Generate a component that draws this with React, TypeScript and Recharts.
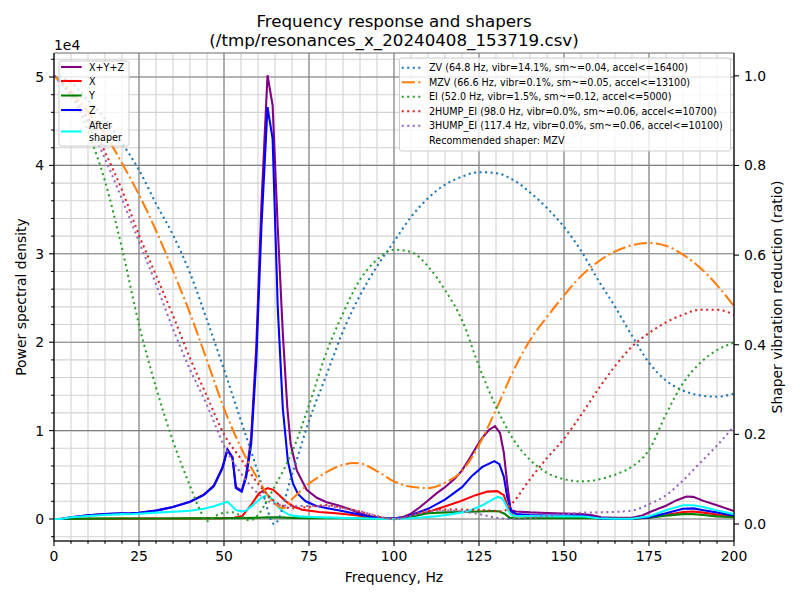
import React from 'react';
import { ComposedChart, Line, XAxis, YAxis, CartesianGrid } from 'recharts';

type Pt = [number, number];

// ---- Power spectral density (frequency Hz, PSD) ----
const psdXyz: Pt[] = [
  [0, 0], [2, 0], [5, 200], [10, 420], [15, 560], [20, 640], [22, 620], [25, 700], [30, 950], [35, 1350],
  [40, 1950], [44, 2750], [47, 3800], [49.5, 5800], [51, 7900], [52.5, 7000], [53.5, 3600], [55.2, 3200],
  [56.5, 5000], [58, 9300], [59.5, 19500], [61, 35500], [62.8, 50200], [64.3, 46800], [65.8, 33000],
  [67.3, 21000], [68.6, 12700], [69.6, 8500], [71.4, 5500], [74.3, 3300], [77.3, 2400], [80.2, 1900],
  [84, 1500], [87, 1100], [90, 650], [93, 300], [96, 130], [100, 80], [102.5, 200], [105, 600],
  [107.5, 1300], [110, 2100], [112.5, 2900], [115, 3600], [118, 4600], [120, 5500], [122, 6700],
  [124, 8000], [126, 9200], [128, 10100], [129.7, 10500], [131.2, 9700], [132.3, 7500], [133.3, 4000],
  [134.3, 1000], [136, 850], [140, 750], [145, 680], [150, 620], [155, 560], [158, 450], [161, 200],
  [165, 150], [170, 150], [173, 400], [176, 900], [180, 1500], [183, 2100], [186, 2550], [188, 2500],
  [191, 2050], [195, 1550], [200, 900],
];

const psdX: Pt[] = [
  [0, 0], [10, 30], [20, 40], [30, 50], [40, 60], [50, 100], [53, 150], [55.4, 350], [57.8, 1500],
  [60.3, 2900], [62.8, 3500], [64.5, 3300], [66.5, 2600], [68.5, 1900], [70.5, 1400], [73, 1050],
  [78, 800], [83, 650], [88, 450], [93, 230], [97, 100], [100, 80], [103, 150], [106, 350], [110, 800],
  [114.5, 1350], [119.5, 2000], [124, 2700], [127.5, 3100], [130.4, 3150], [132.3, 2700], [133.8, 1000],
  [135, 400], [140, 300], [150, 250], [156, 250], [160, 100], [165, 40], [170, 40], [175, 150],
  [180, 450], [185, 800], [188, 850], [191, 720], [195, 500], [200, 300],
];

const psdY: Pt[] = [
  [0, 0], [10, 40], [20, 50], [30, 60], [40, 70], [50, 90], [55, 100], [60, 150], [63, 200], [66, 180],
  [70, 130], [75, 100], [85, 80], [95, 40], [100, 30], [105, 250], [110, 650], [115, 750], [120, 800],
  [125, 850], [129, 900], [131, 850], [132.5, 600], [134, 150], [136, 60], [145, 80], [150, 100],
  [156, 120], [160, 60], [165, 30], [170, 30], [175, 150], [180, 380], [185, 550], [188, 550],
  [191, 450], [195, 300], [200, 200],
];

const psdZ: Pt[] = [
  [0, 0], [2, 0], [5, 200], [10, 420], [15, 560], [20, 640], [22, 620], [25, 700], [30, 950], [35, 1350],
  [40, 1950], [44, 2700], [47, 3700], [49.5, 5700], [51, 7800], [52.5, 6900], [53.5, 3500], [55.2, 3100],
  [56.5, 4700], [58, 8500], [59.5, 18000], [61, 33000], [62.8, 46600], [64.3, 43000], [65.8, 24000],
  [67.3, 12500], [68.8, 6500], [70.3, 4000], [71.8, 2800], [74, 2000], [77, 1500], [80, 1250],
  [84, 950], [88, 640], [92, 330], [96, 120], [100, 80], [103, 200], [106, 600], [110, 1150],
  [115, 2200], [120, 3600], [123, 4900], [126, 5900], [129.5, 6550], [131, 6200], [132.3, 4800],
  [133.3, 2500], [134.5, 900], [136, 550], [140, 450], [145, 400], [150, 380], [156, 350], [160, 100],
  [165, 30], [170, 30], [175, 200], [180, 650], [185, 1150], [188, 1200], [191, 1000], [195, 750],
  [200, 400],
];

const afterShaper: Pt[] = [
  [0, 0], [2, 0], [5, 190], [10, 340], [15, 450], [20, 550], [22, 530], [25, 600], [30, 720], [35, 820],
  [40, 930], [44, 1150], [47, 1450], [49.5, 1750], [51, 1950], [52.5, 1400], [53.5, 1000], [55.2, 850],
  [56.5, 950], [58, 1400], [59.5, 1900], [61, 2400], [62.8, 2750], [64.3, 2200], [65.8, 1400],
  [67.3, 900], [68.8, 550], [70.3, 380], [72, 300], [76, 230], [80, 180], [88, 90], [95, 30], [100, 10],
  [104, 60], [108, 170], [112, 300], [116, 480], [120, 750], [123, 1050], [126, 1550], [128.5, 2100],
  [130.5, 2500], [131.7, 2350], [132.7, 1800], [133.7, 900], [134.7, 400], [136, 350], [140, 330],
  [145, 320], [150, 300], [156, 280], [160, 80], [165, 20], [170, 20], [175, 300], [180, 1000],
  [185, 1550], [188, 1550], [191, 1350], [195, 950], [200, 550],
];

// ---- Shaper vibration reduction ratios (frequency Hz, ratio) ----
const zvRatio: Pt[] = [
  [0, 1.0], [5, 0.985], [10, 0.945], [15, 0.905], [20, 0.85], [25, 0.79], [30, 0.715], [35, 0.645],
  [40, 0.56], [45, 0.455], [50, 0.345], [55, 0.23], [60, 0.115], [64.8, 0.0], [70, 0.11], [75, 0.23],
  [80, 0.33], [85, 0.43], [90, 0.51], [95, 0.575], [100, 0.63], [105, 0.685], [110, 0.727], [115, 0.757],
  [120, 0.775], [125, 0.785], [130, 0.783], [135, 0.768], [140, 0.74], [145, 0.705], [150, 0.663],
  [155, 0.61], [160, 0.545], [165, 0.485], [170, 0.42], [175, 0.36], [180, 0.32], [185, 0.298],
  [190, 0.287], [195, 0.284], [200, 0.291],
];

const mzvRatio: Pt[] = [
  [0, 1.0], [5, 0.965], [10, 0.92], [15, 0.87], [20, 0.805], [25, 0.735], [30, 0.655], [35, 0.565],
  [40, 0.47], [45, 0.365], [50, 0.258], [55, 0.17], [60, 0.1], [65, 0.045], [67.5, 0.035], [70, 0.055],
  [75, 0.09], [80, 0.115], [85, 0.132], [88, 0.136], [90, 0.135], [95, 0.118], [100, 0.095], [105, 0.083],
  [110, 0.08], [115, 0.092], [120, 0.118], [125, 0.176], [130, 0.255], [135, 0.34], [140, 0.41],
  [145, 0.462], [150, 0.51], [155, 0.553], [160, 0.585], [165, 0.608], [170, 0.622], [175, 0.627],
  [180, 0.621], [185, 0.601], [190, 0.572], [195, 0.533], [200, 0.486],
];

const eiRatio: Pt[] = [
  [0, 1.0], [5, 0.96], [10, 0.875], [15, 0.765], [20, 0.615], [25, 0.445], [30, 0.305], [35, 0.185],
  [40, 0.085], [43, 0.03], [45, 0.006], [47.5, 0.018], [50, 0.025], [52.5, 0.026], [55, 0.018],
  [57.5, 0.008], [60, 0.02], [62.5, 0.05], [65, 0.085], [67.5, 0.12], [70, 0.16], [75, 0.265],
  [80, 0.38], [85, 0.47], [90, 0.545], [95, 0.59], [100, 0.612], [105, 0.607], [110, 0.575],
  [115, 0.522], [120, 0.455], [125, 0.352], [130, 0.262], [135, 0.19], [140, 0.143], [145, 0.114],
  [150, 0.1], [155, 0.095], [160, 0.099], [165, 0.11], [170, 0.128], [175, 0.165], [180, 0.245],
  [185, 0.314], [190, 0.359], [195, 0.388], [200, 0.405],
];

const twoHumpRatio: Pt[] = [
  [0, 1.0], [5, 0.96], [10, 0.905], [15, 0.83], [20, 0.745], [25, 0.645], [30, 0.555], [35, 0.465],
  [40, 0.37], [45, 0.285], [50, 0.2], [55, 0.145], [60, 0.09], [65, 0.05], [70, 0.035], [75, 0.038],
  [80, 0.042], [85, 0.036], [90, 0.028], [95, 0.017], [100, 0.012], [105, 0.02], [110, 0.03],
  [115, 0.032], [120, 0.032], [125, 0.031], [130, 0.029], [132, 0.028], [135, 0.048], [140, 0.1],
  [145, 0.147], [150, 0.19], [155, 0.243], [160, 0.3], [165, 0.352], [170, 0.396], [175, 0.426],
  [180, 0.45], [185, 0.467], [190, 0.478], [195, 0.478], [200, 0.467],
];

const threeHumpRatio: Pt[] = [
  [0, 1.0], [5, 0.955], [10, 0.895], [15, 0.815], [20, 0.725], [25, 0.63], [30, 0.535], [35, 0.435],
  [40, 0.345], [45, 0.265], [50, 0.175], [55, 0.113], [60, 0.068], [65, 0.045], [70, 0.04], [75, 0.04],
  [80, 0.04], [85, 0.035], [90, 0.028], [95, 0.018], [100, 0.01], [105, 0.018], [110, 0.028],
  [115, 0.03], [120, 0.028], [125, 0.022], [130, 0.014], [135, 0.011], [140, 0.013], [145, 0.018],
  [150, 0.022], [155, 0.025], [160, 0.026], [165, 0.027], [170, 0.03], [175, 0.044], [180, 0.064],
  [185, 0.097], [190, 0.136], [195, 0.175], [200, 0.218],
];

// ---- Axis ticks ----
const xMajorTicks = [0, 25, 50, 75, 100, 125, 150, 175, 200];
const xMinorTicks = Array.from({ length: 41 }, (_, i) => i * 5);
const psdMajorTicks = [0, 10000, 20000, 30000, 40000, 50000];
const psdMinorTicks = Array.from({ length: 28 }, (_, i) => -2000 + i * 2000);
const ratioTicks = [0, 0.2, 0.4, 0.6, 0.8, 1.0];

const X_DOMAIN: [number, number] = [0, 200];
const PSD_DOMAIN: [number, number] = [-2489, 52715];
const RATIO_DOMAIN: [number, number] = [-0.038, 1.051];

const FONT = 'DejaVu Sans';
const TICK_FONT = 13.9;
const LEGEND_FONT = 9.6;
const DOTTED = '2.08 3.44';
const DASHDOT = '13.3 3.33 2.08 3.33';

const psdSeries = [
  { key: 'xyz', label: ['X+Y+Z'], pts: psdXyz, color: '#800080' },
  { key: 'x', label: ['X'], pts: psdX, color: '#ff0000' },
  { key: 'y', label: ['Y'], pts: psdY, color: '#008000' },
  { key: 'z', label: ['Z'], pts: psdZ, color: '#0000ff' },
  { key: 'after', label: ['After', 'shaper'], pts: afterShaper, color: '#00ffff' },
];

const shaperSeries = [
  { key: 'zv', label: 'ZV (64.8 Hz, vibr=14.1%, sm~=0.04, accel<=16400)', pts: zvRatio, color: '#1f77b4', dash: DOTTED },
  { key: 'mzv', label: 'MZV (66.6 Hz, vibr=0.1%, sm~=0.05, accel<=13100)', pts: mzvRatio, color: '#ff7f0e', dash: DASHDOT },
  { key: 'ei', label: 'EI (52.0 Hz, vibr=1.5%, sm~=0.12, accel<=5000)', pts: eiRatio, color: '#2ca02c', dash: DOTTED },
  { key: '2hump', label: '2HUMP_EI (98.0 Hz, vibr=0.0%, sm~=0.06, accel<=10700)', pts: twoHumpRatio, color: '#d62728', dash: DOTTED },
  { key: '3hump', label: '3HUMP_EI (117.4 Hz, vibr=0.0%, sm~=0.06, accel<=10100)', pts: threeHumpRatio, color: '#9467bd', dash: DOTTED },
];

const toRows = (pts: Pt[]) => pts.map(([f, v]) => ({ f, v }));

const TICK_SIZE = 5;
const TICK_MARGIN = 5;

const BottomTick = (props: any) => {
  const { x, y, payload } = props;
  const v = payload.value as number;
  const major = xMajorTicks.includes(v);
  const axisY = y - TICK_SIZE - TICK_MARGIN;
  return (
    <g>
      <line x1={x} x2={x} y1={axisY} y2={axisY + (major ? 4.9 : 2.8)} stroke="#000" strokeWidth={1.1} />
      {major && (
        <text x={x} y={y} dy="0.71em" textAnchor="middle" fontFamily={FONT} fontSize={TICK_FONT} fill="#000">
          {v}
        </text>
      )}
    </g>
  );
};

const LeftTick = (props: any) => {
  const { x, y, payload } = props;
  const v = payload.value as number;
  const major = psdMajorTicks.includes(v);
  const axisX = x + TICK_SIZE + TICK_MARGIN;
  return (
    <g>
      <line x1={axisX} x2={axisX - (major ? 4.9 : 2.8)} y1={y} y2={y} stroke="#000" strokeWidth={1.1} />
      {major && (
        <text x={x} y={y} dy="0.355em" textAnchor="end" fontFamily={FONT} fontSize={TICK_FONT} fill="#000">
          {v / 10000}
        </text>
      )}
    </g>
  );
};

const Overlay = () => (
  <svg
    width={800}
    height={600}
    style={{ position: 'absolute', left: 0, top: 0, pointerEvents: 'none' }}
    fontFamily={FONT}
  >
    <text x={394} y={21} fontSize={16.7} textAnchor="middle" dominantBaseline="central">
      Frequency response and shapers
    </text>
    <text x={394} y={40} fontSize={16.7} textAnchor="middle" dominantBaseline="central">
      (/tmp/resonances_x_20240408_153719.csv)
    </text>
    <text x={54} y={45} fontSize={TICK_FONT} dominantBaseline="central">1e4</text>
    <text x={394} y={577} fontSize={TICK_FONT} textAnchor="middle" dominantBaseline="central">
      Frequency, Hz
    </text>
    <text
      x={21}
      y={297}
      fontSize={TICK_FONT}
      textAnchor="middle"
      dominantBaseline="central"
      transform="rotate(-90 21 297)"
    >
      Power spectral density
    </text>
    <text
      x={777}
      y={297}
      fontSize={TICK_FONT}
      textAnchor="middle"
      dominantBaseline="central"
      transform="rotate(-90 777 297)"
    >
      Shaper vibration reduction (ratio)
    </text>

    {/* PSD legend (upper left) */}
    <rect x={59} y={61} width={70} height={85} rx={2} fill="#fff" fillOpacity={0.8} stroke="#cccccc" strokeWidth={1} />
    {psdSeries.map((s, i) => {
      const rows = [67, 81, 95.5, 110];
      const cy = i < 4 ? rows[i] : 131.5;
      return (
        <g key={s.key}>
          <line x1={61} x2={81.7} y1={cy} y2={cy} stroke={s.color} strokeWidth={2.08} />
          {s.label.map((t, j) => (
            <text
              key={t}
              x={89}
              y={s.label.length > 1 ? cy - 5.8 + j * 11.6 : cy}
              fontSize={LEGEND_FONT}
              dominantBaseline="central"
            >
              {t}
            </text>
          ))}
        </g>
      );
    })}

    {/* Shaper legend (upper right) */}
    <rect x={399.5} y={58} width={331} height={93} rx={2} fill="#fff" fillOpacity={0.8} stroke="#cccccc" strokeWidth={1} />
    {shaperSeries.map((s, i) => {
      const cy = 67.7 + i * 14.5;
      return (
        <g key={s.key}>
          <line x1={401.7} x2={423} y1={cy} y2={cy} stroke={s.color} strokeWidth={2.08} strokeDasharray={s.dash} />
          <text x={429} y={cy} fontSize={LEGEND_FONT} dominantBaseline="central">
            {s.label}
          </text>
        </g>
      );
    })}
    <text x={429} y={67.7 + 5 * 14.5} fontSize={LEGEND_FONT} dominantBaseline="central">
      Recommended shaper: MZV
    </text>
  </svg>
);

export default function App() {
  return (
    <div style={{ position: 'absolute', left: 0, top: 0, width: 800, height: 600, background: '#fff' }}>
      <ComposedChart width={800} height={600} margin={{ top: 53, right: 16, bottom: 19, left: 10 }}>
        <XAxis
          type="number"
          dataKey="f"
          domain={X_DOMAIN}
          allowDataOverflow
          ticks={xMinorTicks}
          interval={0}
          tick={<BottomTick />}
          tickLine={false}
          tickSize={TICK_SIZE}
          tickMargin={TICK_MARGIN}
          height={40}
          axisLine={{ stroke: '#000', strokeWidth: 1.1 }}
        />
        <XAxis
          xAxisId="xMajor"
          type="number"
          dataKey="f"
          domain={X_DOMAIN}
          allowDataOverflow
          ticks={xMajorTicks}
          interval={0}
          hide
        />
        <XAxis
          xAxisId="top"
          orientation="top"
          type="number"
          dataKey="f"
          domain={X_DOMAIN}
          allowDataOverflow
          height={0}
          tick={false}
          tickLine={false}
          axisLine={{ stroke: '#000', strokeWidth: 1.1 }}
        />
        <YAxis
          yAxisId="left"
          type="number"
          domain={PSD_DOMAIN}
          allowDataOverflow
          ticks={psdMinorTicks}
          interval={0}
          tick={<LeftTick />}
          tickLine={false}
          tickSize={TICK_SIZE}
          tickMargin={TICK_MARGIN}
          width={44}
          axisLine={{ stroke: '#000', strokeWidth: 1.1 }}
        />
        <YAxis
          yAxisId="yMajor"
          type="number"
          domain={PSD_DOMAIN}
          allowDataOverflow
          ticks={psdMajorTicks}
          interval={0}
          hide
        />
        <YAxis
          yAxisId="right"
          orientation="right"
          type="number"
          domain={RATIO_DOMAIN}
          allowDataOverflow
          ticks={ratioTicks}
          interval={0}
          tickFormatter={(v: number) => v.toFixed(1)}
          tickSize={TICK_SIZE}
          tickMargin={TICK_MARGIN}
          width={50}
          tick={{ fontFamily: FONT, fontSize: TICK_FONT, fill: '#000' }}
          tickLine={{ stroke: '#000', strokeWidth: 1.1 }}
          axisLine={{ stroke: '#000', strokeWidth: 1.1 }}
        />
        <CartesianGrid yAxisId="left" stroke="#d3d3d3" strokeWidth={1.1} fill="none" />
        <CartesianGrid xAxisId="xMajor" yAxisId="yMajor" stroke="#808080" strokeWidth={1.1} fill="none" />

        {psdSeries.map((s) => (
          <Line
            key={s.key}
            yAxisId="left"
            data={toRows(s.pts)}
            dataKey="v"
            name={s.label.join(' ')}
            type="linear"
            stroke={s.color}
            strokeWidth={2.08}
            dot={false}
            activeDot={false}
            isAnimationActive={false}
          />
        ))}
        {shaperSeries.map((s) => (
          <Line
            key={s.key}
            yAxisId="right"
            data={toRows(s.pts)}
            dataKey="v"
            name={s.label}
            type="monotone"
            stroke={s.color}
            strokeWidth={2.08}
            strokeDasharray={s.dash}
            dot={false}
            activeDot={false}
            isAnimationActive={false}
          />
        ))}
      </ComposedChart>
      <Overlay />
    </div>
  );
}
